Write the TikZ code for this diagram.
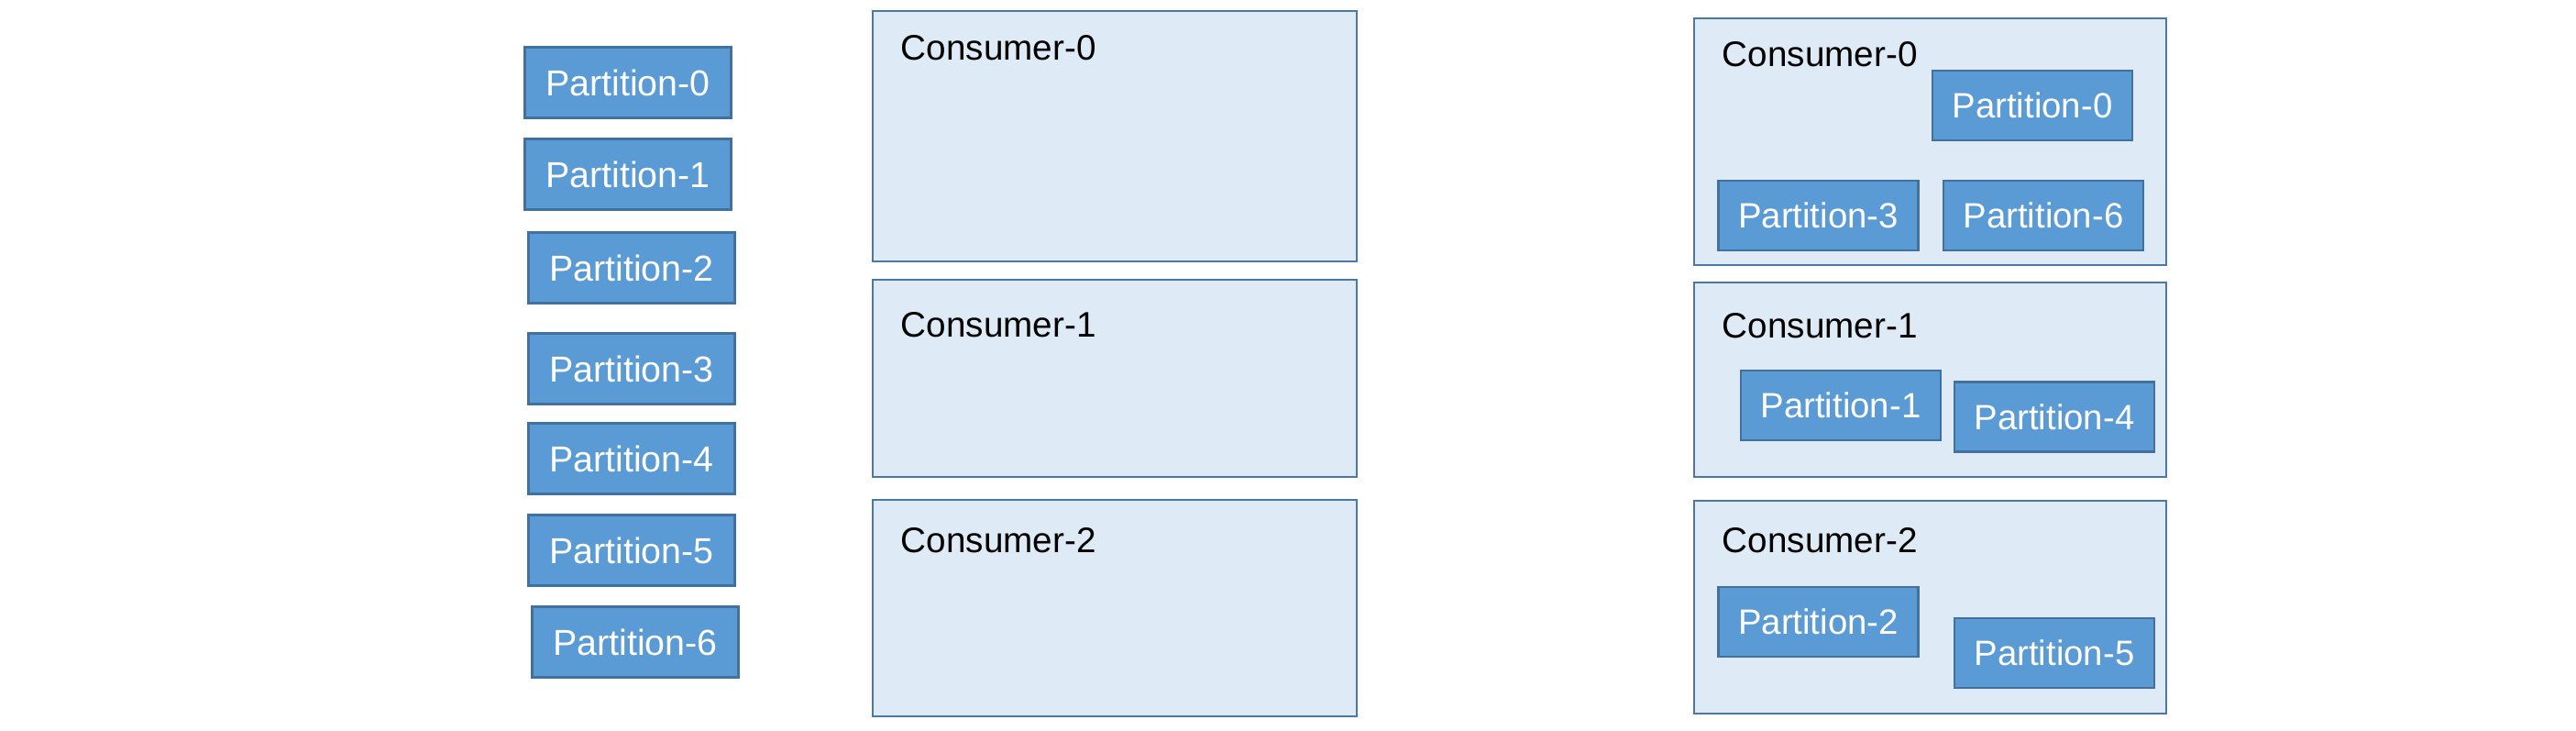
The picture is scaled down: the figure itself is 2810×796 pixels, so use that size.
\documentclass[tikz,border=0pt]{standalone}
\usepackage{fontspec}
\setmainfont{Liberation Sans}
\usepackage{xcolor}
\definecolor{partfill}{HTML}{5B9BD5}
\definecolor{partedge}{HTML}{41719C}
\definecolor{consfill}{HTML}{DEEAF6}
\definecolor{consedge}{HTML}{4A78A8}

\begin{document}
\begin{tikzpicture}[x=0.01cm, y=-0.01cm,
    partbox/.style={draw=partedge, fill=partfill, line width=0.7pt, text=white,
        inner sep=0pt, minimum width=2.18cm, minimum height=0.76cm,
        font=\fontsize{10.9}{13}\selectfont},
    freepart/.style={partbox, minimum width=2.25cm, minimum height=0.77cm,
        font=\fontsize{11.2}{13}\selectfont},
    consbox/.style={draw=consedge, fill=consfill, line width=0.7pt, inner sep=0pt},
    conslabel/.style={anchor=base west, inner sep=0pt, font=\fontsize{11}{13}\selectfont}]
\useasboundingbox (0,0) rectangle (2810,796);

% Partitions, not yet assigned
\foreach \i/\px/\py in {0/685/90, 1/685/190, 2/689/292, 3/689/402, 4/689/500, 5/689/600, 6/693/700} {
    \node[freepart] (p\i) at (\px,\py) {Partition-\i};
}

% Consumers, empty
\foreach \i/\cy/\hgt/\ly in {0/148.5/2.73/65, 1/412.5/2.15/367, 2/663/2.36/602} {
    \node[consbox, minimum width=5.28cm, minimum height=\hgt cm] (a\i) at (1216,\cy) {};
    \node[conslabel] (alabel\i) at (982,\ly) {Consumer-\i};
}

% Consumers after the assignment
\foreach \i/\cy/\hgt/\ly in {0/154.5/2.69/72, 1/414/2.12/368, 2/662/2.32/602} {
    \node[consbox, minimum width=5.15cm, minimum height=\hgt cm] (b\i) at (2105.5,\cy) {};
    \node[conslabel] (blabel\i) at (1878,\ly) {Consumer-\i};
}

% Assigned partitions
\foreach \i/\px/\py in {0/2217/115, 3/1983.5/235, 6/2229/235, 1/2008/442, 4/2241/454.5, 2/1983.5/678, 5/2241/712} {
    \node[partbox] (q\i) at (\px,\py) {Partition-\i};
}
\end{tikzpicture}
\end{document}
